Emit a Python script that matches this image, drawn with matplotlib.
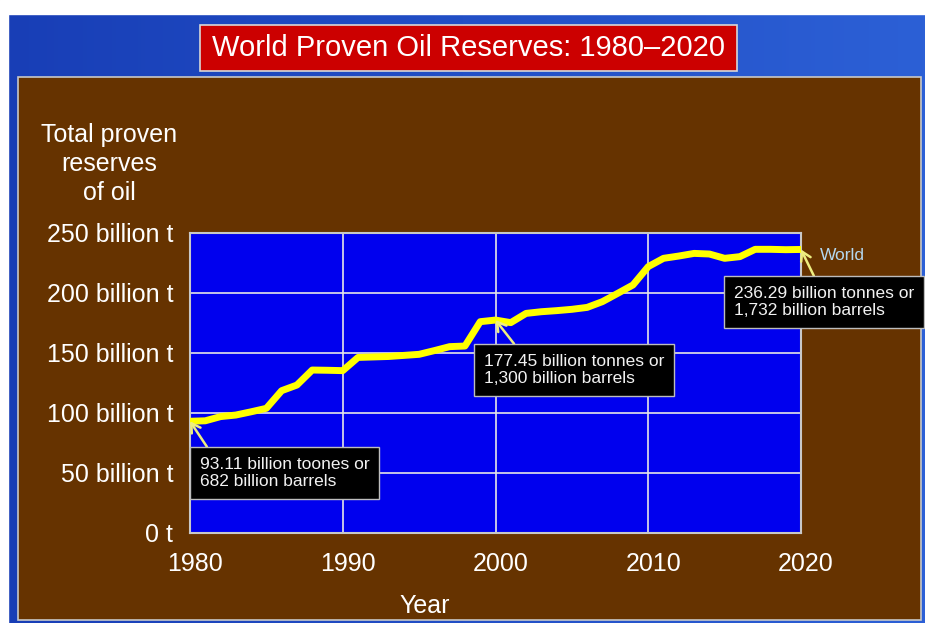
import numpy as np
import matplotlib
matplotlib.use("Agg")
import matplotlib.pyplot as plt
import matplotlib.transforms as mtransforms
from matplotlib.patches import Rectangle

plt.rcParams['font.family'] = ['Liberation Sans', 'DejaVu Sans']

# proven reserves, billion tonnes, one value per year
years = list(range(1980, 2021))
reserves = [93.11, 93.5, 97.0, 98.3, 101.0, 103.9, 118.6, 123.3, 135.8, 135.6,
            135.3, 146.3, 146.7, 147.1, 148.0, 148.9, 152.0, 155.3, 155.8, 176.1,
            177.45, 175.3, 183.0, 184.4, 185.3, 186.4, 188.0, 192.8, 199.7, 206.7,
            222.0, 228.9, 230.8, 233.0, 232.5, 228.9, 230.3, 236.4, 236.4, 236.1,
            236.29]

x_ticks = [1980, 1990, 2000, 2010, 2020]
y_ticks = [0, 50, 100, 150, 200, 250]
y_labels = ["0 t", "50 billion t", "100 billion t", "150 billion t",
            "200 billion t", "250 billion t"]

# callouts: (year, text, text left / centre in pixels, where the arrow leaves the box)
callouts = [
    (1980, "93.11 billion toones or\n682 billion barrels", (200, 473), (0.08, 1.0)),
    (2000, "177.45 billion tonnes or\n1,300 billion barrels", (484, 370), (0.21, 1.0)),
    (2020, "236.29 billion tonnes or\n1,732 billion barrels", (734, 302), (0.47, 1.0)),
]

W, H = 925, 623
fig = plt.figure(figsize=(W / 100, H / 100), dpi=100)
fig.patch.set_facecolor('#2c60d6')

# slide background, drawn in pixel coordinates (origin top-left)
bg = fig.add_axes([0, 0, 1, 1], zorder=0)
bg.set_xlim(0, W)
bg.set_ylim(H, 0)
bg.axis('off')
grad = np.linspace(0, 1, 256)[None, :, None]
c0 = np.array([24, 62, 182]) / 255
c1 = np.array([44, 96, 214]) / 255
bg.imshow(c0 + (c1 - c0) * grad, extent=(0, W + 2, H + 2, 0), aspect='auto')
bg.add_patch(Rectangle((0, 0), W, 14, color='white'))
bg.add_patch(Rectangle((0, 0), 8, H, color='white'))
bg.add_patch(Rectangle((18, 77), 903, 543, facecolor='#663300',
                       edgecolor='#c8c8c8', lw=1.2))
bg.add_patch(Rectangle((200, 25), 537, 46, facecolor='#cc0000',
                       edgecolor='#d8d8d8', lw=1.2))
bg.text(468.5, 48, "World Proven Oil Reserves: 1980\u20132020", color='white',
        fontsize=21, ha='center', va='center')
bg.text(109, 164, "Total proven\nreserves\nof oil", color='white', fontsize=18,
        ha='center', va='center', linespacing=1.25)
bg.text(425, 606, "Year", color='white', fontsize=18, ha='center', va='center')
bg.text(820, 256, "World", color='#b4d8f0', fontsize=12.5, ha='left', va='center')

# the chart itself
ax = fig.add_axes([190 / W, (H - 533) / H, 611 / W, 300 / H], zorder=1)
ax.set_facecolor('#0000ee')
ax.plot(years, reserves, color='#ffff00', lw=5,
        solid_joinstyle='round', solid_capstyle='round', zorder=3)
ax.set_xlim(1980, 2020)
ax.set_ylim(0, 250)
ax.set_xticks(x_ticks)
ax.set_yticks(y_ticks)
ax.set_yticklabels(y_labels)
ax.tick_params(axis='both', length=0, colors='white', labelsize=18)
ax.tick_params(axis='x', pad=14)
ax.tick_params(axis='y', pad=12)
ax.grid(True, color='#e6e6e6', lw=1.2)
for s in ax.spines.values():
    s.set_color('#c8c8c8')
    s.set_linewidth(1.5)

# year labels sit a few pixels right of their gridlines
shift = mtransforms.ScaledTranslation(5 / 100, 0, fig.dpi_scale_trans)
for lbl in ax.get_xticklabels():
    lbl.set_transform(lbl.get_transform() + shift)

for yr, txt, (tx, ty), rel in callouts:
    val = reserves[years.index(yr)]
    ax.annotate(txt, xy=(yr, val), xytext=(tx, H - ty),
                textcoords='figure pixels', color='#f2f2f2', fontsize=12.5,
                ha='left', va='center', linespacing=1.2, annotation_clip=False,
                bbox=dict(boxstyle='square,pad=0.55', facecolor='black',
                          edgecolor='#bdbdbd', lw=1),
                arrowprops=dict(arrowstyle='->,head_length=0.5,head_width=0.3',
                                color='#eeee80', lw=1.8, shrinkA=0, shrinkB=0,
                                relpos=rel),
                zorder=5)

fig.savefig('out.png', dpi=100)
